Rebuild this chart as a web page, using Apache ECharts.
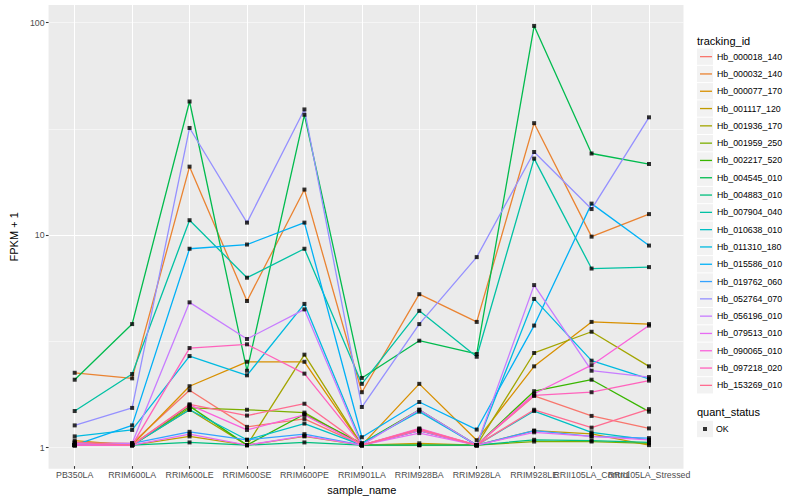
<!DOCTYPE html>
<html><head><meta charset="utf-8">
<script src="https://cdn.jsdelivr.net/npm/echarts@6/dist/echarts.min.js"></script>
<style>html,body{margin:0;padding:0;background:#fff}#c{width:800px;height:500px}</style>
</head><body><div id="c"></div>
<script>
// ---------- DATA ----------
const categories = ['PB350LA','RRIM600LA','RRIM600LE','RRIM600SE','RRIM600PE','RRIM901LA','RRIM928BA','RRIM928LA','RRIM928LE','RRII105LA_Control','RRII105LA_Stressed'];

const Hb_000018_140 = [1.03, 1.02, 1.82, 1.22, 1.33, 1.0, 1.19, 1.0, 1.71, 1.375, 1.2];
const Hb_000032_140 = [2.2, 2.07, 20.8, 4.81, 16.2, 1.78, 5.18, 3.83, 33.4, 9.7, 12.4];
const Hb_000077_170 = [1.05, 1.0, 1.9, 2.48, 2.48, 1.0, 1.95, 1.055, 2.36, 3.83, 3.74];
const Hb_001117_120 = [1.0, 1.0, 1.1, 1.0, 1.1, 1.0, 1.02, 1.0, 1.17, 1.13, 1.0];
const Hb_001936_170 = [1.0, 1.0, 1.47, 1.0, 2.68, 1.0, 1.0, 1.0, 2.73, 3.44, 2.36];
const Hb_001959_250 = [1.0, 1.0, 1.5, 1.47, 1.425, 1.0, 1.0, 1.0, 1.04, 1.04, 1.02];
const Hb_002217_520 = [1.0, 1.0, 1.53, 1.0, 1.4, 1.02, 1.47, 1.0, 1.8, 2.04, 1.44];
const Hb_004545_010 = [2.04, 3.74, 42.3, 2.25, 36.6, 2.08, 3.12, 2.7, 96.4, 24.0, 21.4];
const Hb_004883_010 = [1.0, 1.0, 1.03, 1.0, 1.03, 1.0, 1.0, 1.0, 1.06, 1.05, 1.03];
const Hb_007904_040 = [1.45, 2.17, 11.6, 6.2, 8.5, 1.95, 4.32, 2.62, 22.7, 6.85, 6.96];
const Hb_010638_010 = [1.0, 1.0, 1.47, 1.06, 1.265, 1.0, 1.17, 1.0, 1.45, 1.15, 1.06];
const Hb_011310_180 = [1.10, 1.18, 2.64, 2.14, 4.66, 1.02, 1.44, 1.0, 4.92, 2.51, 2.06];
const Hb_015586_010 = [1.0, 1.24, 8.5, 8.9, 11.3, 1.09, 1.6, 1.185, 3.68, 13.9, 8.8];
const Hb_019762_060 = [1.0, 1.02, 1.156, 1.06, 1.127, 1.0, 1.17, 1.0, 1.17, 1.1, 1.08];
const Hb_052764_070 = [1.24, 1.50, 31.7, 11.3, 38.8, 1.515, 3.74, 7.76, 24.4, 13.1, 35.6];
const Hb_056196_010 = [1.02, 1.02, 4.74, 3.18, 4.39, 1.0, 1.47, 1.0, 5.72, 2.25, 2.1];
const Hb_079513_010 = [1.0, 1.0, 1.127, 1.0, 1.107, 1.0, 1.14, 1.0, 1.15, 1.1, 1.06];
const Hb_090065_010 = [1.0, 1.0, 1.55, 1.18, 1.39, 1.0, 1.2, 1.0, 1.75, 2.39, 3.68];
const Hb_097218_020 = [1.0, 1.0, 2.88, 3.0, 2.18, 1.0, 1.17, 1.0, 1.72, 1.78, 2.02];
const Hb_153269_010 = [1.03, 1.0, 1.56, 1.38, 1.57, 1.0, 1.19, 1.0, 1.47, 1.21, 1.48];

const trackingIds = ['Hb_000018_140','Hb_000032_140','Hb_000077_170','Hb_001117_120','Hb_001936_170','Hb_001959_250','Hb_002217_520','Hb_004545_010','Hb_004883_010','Hb_007904_040','Hb_010638_010','Hb_011310_180','Hb_015586_010','Hb_019762_060','Hb_052764_070','Hb_056196_010','Hb_079513_010','Hb_090065_010','Hb_097218_020','Hb_153269_010'];
const seriesValues = [Hb_000018_140,Hb_000032_140,Hb_000077_170,Hb_001117_120,Hb_001936_170,Hb_001959_250,Hb_002217_520,Hb_004545_010,Hb_004883_010,Hb_007904_040,Hb_010638_010,Hb_011310_180,Hb_015586_010,Hb_019762_060,Hb_052764_070,Hb_056196_010,Hb_079513_010,Hb_090065_010,Hb_097218_020,Hb_153269_010];
const yTickLabels = [1, 10, 100];
const quantStatus = ['OK'];

// ---------- STYLE / LAYOUT ----------
const palette = ['#F8766D','#EA8331','#D89000','#C09B00','#A3A500','#7CAE00','#39B600','#00BB4E','#00BF7D','#00C1A3','#00BFC4','#00BAE0','#00B0F6','#35A2FF','#9590FF','#C77CFF','#E76BF3','#FA62DB','#FF62BC','#FF6C91'];
const FONT = "'Liberation Sans', Arial, Helvetica, sans-serif";
const PANEL_L = 40.2, PANEL_R = 683.5, PANEL_T = 4.9, PANEL_B = 468.8;
const CAT_FIRST = 74.7, CAT_LAST = 649;
const Y_MIN = 0.7957, Y_MAX = 121.2;
const KEY_TOP = 48, KEY_H = 17.3;

const chart = echarts.init(document.getElementById('c'), null, {renderer: 'svg', width: 800, height: 500});

const lineSeries = trackingIds.map((name, i) => ({
  type: 'line', name, xAxisIndex: 1, yAxisIndex: 2,
  data: seriesValues[i], symbol: 'none', clip: false, silent: true,
  color: palette[i],
  lineStyle: {width: 1.3, color: palette[i]},
  itemStyle: {color: palette[i], borderWidth: 0},
  z: 2
}));

const points = [];
seriesValues.forEach(vals => vals.forEach((v, j) => points.push([j, v])));

const keyRects = [];
for (let i = 0; i < trackingIds.length; i++) {
  keyRects.push({type: 'rect', shape: {x: 697, y: KEY_TOP + i * KEY_H + 0.5, width: 16, height: KEY_H - 1}, style: {fill: '#F2F2F2'}, z: 0, silent: true});
}
keyRects.push({type: 'rect', shape: {x: 697, y: 420.85, width: 16, height: KEY_H - 1}, style: {fill: '#F2F2F2'}, z: 0, silent: true});

const option = {
  animation: false,
  backgroundColor: '#ffffff',
  textStyle: {fontFamily: FONT},
  grid: [
    {left: PANEL_L, top: PANEL_T, width: PANEL_R - PANEL_L, height: PANEL_B - PANEL_T, show: true, backgroundColor: '#EBEBEB', borderWidth: 0, containLabel: false},
    {left: CAT_FIRST, top: PANEL_T, width: CAT_LAST - CAT_FIRST, height: PANEL_B - PANEL_T, show: false, containLabel: false}
  ],
  xAxis: [
    {type: 'value', gridIndex: 0, min: 0, max: 1, show: false},
    {type: 'category', gridIndex: 1, data: categories, boundaryGap: false, position: 'bottom',
     axisLine: {show: false},
     axisTick: {show: true, length: 2.7, lineStyle: {color: '#333333', width: 1.07}},
     axisLabel: {interval: 0, hideOverlap: false, fontSize: 8.8, color: '#4D4D4D', margin: 4, fontFamily: FONT},
     splitLine: {show: true, lineStyle: {color: '#FFFFFF', width: 1.07}},
     name: 'sample_name', nameLocation: 'middle', nameGap: 15,
     nameTextStyle: {fontSize: 11, color: '#000000', fontFamily: FONT}}
  ],
  yAxis: [
    {type: 'log', gridIndex: 0, position: 'left', offset: 0, logBase: Math.sqrt(10), min: Y_MIN, max: Y_MAX,
     axisLine: {show: false}, axisTick: {show: false}, axisLabel: {show: false},
     splitLine: {show: true, showMinLine: false, showMaxLine: false, lineStyle: {color: '#FFFFFF', width: 0.53}}},
    {type: 'log', gridIndex: 0, position: 'left', offset: 0, logBase: 10, min: Y_MIN, max: Y_MAX,
     axisLine: {show: false},
     axisTick: {show: true, length: 2.7, customValues: yTickLabels, lineStyle: {color: '#333333', width: 1.07}},
     axisLabel: {show: true, customValues: yTickLabels, fontSize: 8.8, color: '#4D4D4D', margin: 4, fontFamily: FONT,
       formatter: v => (yTickLabels.some(t => Math.abs(t - v) < 1e-6 * t) ? String(Math.round(v)) : '')},
     splitLine: {show: true, showMinLine: false, showMaxLine: false, lineStyle: {color: '#FFFFFF', width: 1.07}},
     name: 'FPKM + 1', nameLocation: 'middle', nameGap: 22, nameRotate: 90,
     nameTextStyle: {fontSize: 11, color: '#000000', fontFamily: FONT}},
    {type: 'log', gridIndex: 1, position: 'left', logBase: 10, min: Y_MIN, max: Y_MAX, show: false,
     splitLine: {show: false}}
  ],
  legend: [
    {data: trackingIds, orient: 'vertical', left: 700, top: KEY_TOP, padding: 0, itemGap: 0,
     itemWidth: 12, itemHeight: 1.3, icon: 'rect', selectedMode: false,
     itemStyle: {borderWidth: 0},
     textStyle: {fontSize: 8.8, color: '#000000', lineHeight: KEY_H, fontFamily: FONT}},
    {data: quantStatus, orient: 'vertical', left: 703, top: 420.35, padding: 0, itemGap: 0,
     itemWidth: 4, itemHeight: 4, icon: 'rect', selectedMode: false,
     itemStyle: {color: '#000000', borderWidth: 0},
     textStyle: {fontSize: 8.8, color: '#000000', lineHeight: KEY_H, fontFamily: FONT, padding: [0, 0, 0, 4]}}
  ],
  graphic: [
    ...keyRects,
    {type: 'text', x: 697, y: 40.7, style: {text: 'tracking_id', fontSize: 11, fill: '#000', fontFamily: FONT, verticalAlign: 'middle'}, silent: true},
    {type: 'text', x: 697, y: 412.3, style: {text: 'quant_status', fontSize: 11, fill: '#000', fontFamily: FONT, verticalAlign: 'middle'}, silent: true}
  ],
  series: [
    ...lineSeries,
    {type: 'scatter', name: 'OK', xAxisIndex: 1, yAxisIndex: 2, data: points,
     symbol: 'rect', symbolSize: 4, clip: false, silent: true,
     itemStyle: {color: '#000000'}, z: 3}
  ]
};
chart.setOption(option);
</script>
</body></html>
